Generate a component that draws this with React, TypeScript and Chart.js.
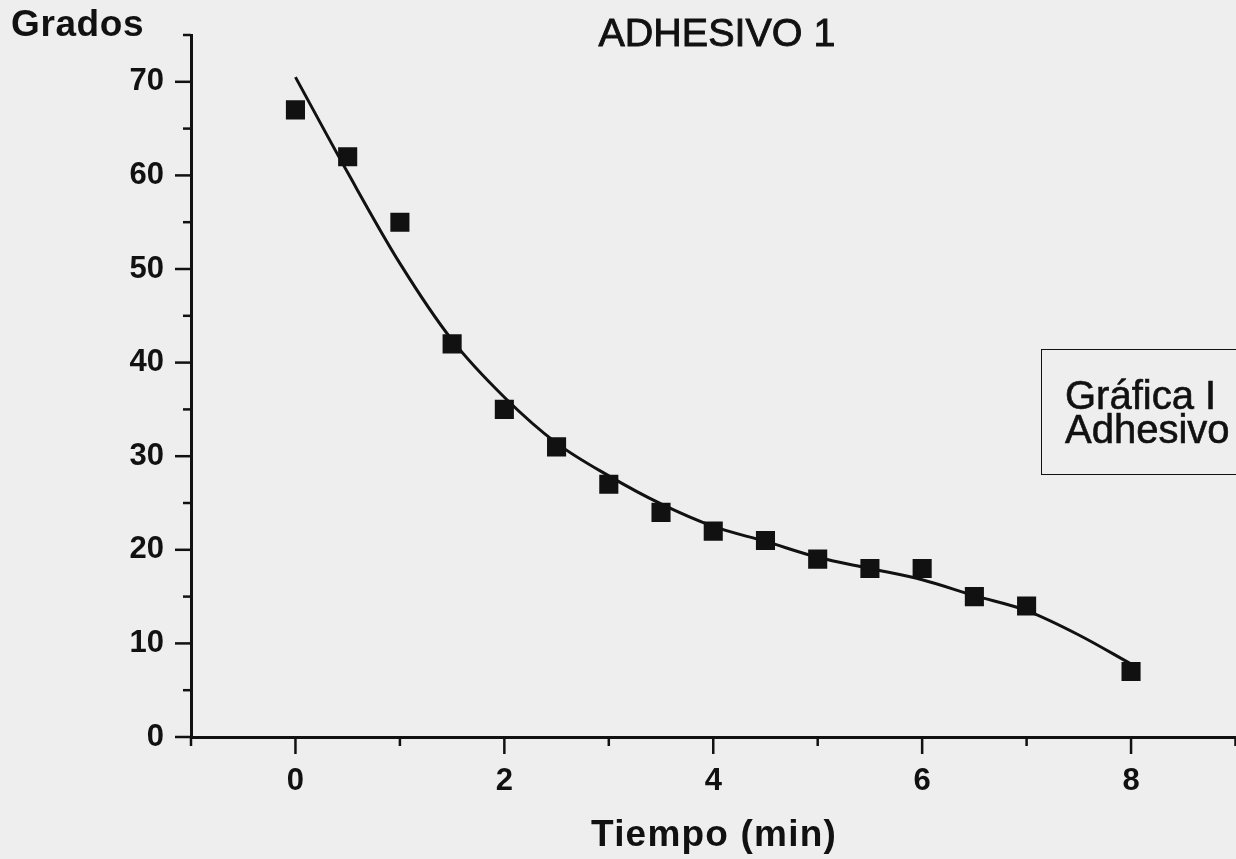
import React, { useEffect, useRef } from 'react';
import { Chart, registerables } from 'chart.js';

Chart.register(...registerables);

// Measured points (Tiempo in min, Grados)
const tiempo = [0, 0.5, 1, 1.5, 2, 2.5, 3, 3.5, 4, 4.5, 5, 5.5, 6, 6.5, 7, 8];
const grados = [67, 62, 55, 42, 35, 31, 27, 24, 22, 21, 19, 18, 18, 15, 14, 7];

// Fitted curve
const ajusteX = [0, 0.5, 1, 1.5, 2, 2.5, 3, 3.5, 4, 4.5, 5, 5.5, 6, 6.5, 7, 7.5, 8];
const ajusteY = [70.5, 60.3, 50.6, 42.4, 36.3, 31.4, 27.9, 24.9, 22.5, 20.9, 19.2, 18.0, 16.8, 15.1, 13.5, 10.9, 7.8];

// Axis labels
const xTickLabels = ['0', '2', '4', '6', '8'];
const yTickLabels = ['0', '10', '20', '30', '40', '50', '60', '70'];

const titulo = 'ADHESIVO 1';
const ejeY = 'Grados';
const ejeX = 'Tiempo (min)';
const cajaLineas = ['Gráfica I', 'Adhesivo'];

const INK = '#111111';
const FONT = '"Liberation Sans", Arial, sans-serif';

const tickMarks = {
  id: 'tickMarks',
  afterDraw(chart: any) {
    const ctx = chart.ctx;
    const xs = chart.scales.x;
    const ys = chart.scales.y;
    ctx.save();
    ctx.strokeStyle = INK;
    ctx.lineWidth = 2.5;
    ctx.lineCap = 'butt';
    xs.ticks.forEach((t: any) => {
      const major = xTickLabels.includes(String(t.value));
      const px = xs.getPixelForValue(t.value);
      const len = major ? 17 : 9;
      ctx.beginPath();
      ctx.moveTo(px, xs.top);
      ctx.lineTo(px, xs.top + len);
      ctx.stroke();
    });
    ys.ticks.forEach((t: any) => {
      const major = yTickLabels.includes(String(t.value));
      const py = ys.getPixelForValue(t.value);
      const len = major ? 16 : 8;
      ctx.beginPath();
      ctx.moveTo(ys.right, py);
      ctx.lineTo(ys.right - len, py);
      ctx.stroke();
    });
    ctx.restore();
  },
};

export default function App() {
  const ref = useRef<HTMLCanvasElement | null>(null);

  useEffect(() => {
    if (!ref.current) return;
    const puntos = tiempo.map((x, i) => ({ x, y: grados[i] }));
    const curva = ajusteX.map((x, i) => ({ x, y: ajusteY[i] }));
    const chart = new Chart(ref.current, {
      type: 'scatter',
      data: {
        datasets: [
          {
            label: 'ajuste',
            data: curva,
            showLine: true,
            borderColor: INK,
            borderWidth: 3,
            pointRadius: 0,
            cubicInterpolationMode: 'monotone',
          } as any,
          {
            label: 'datos',
            data: puntos,
            showLine: false,
            pointStyle: 'rect',
            pointRadius: 13.5,
            backgroundColor: INK,
            borderColor: INK,
            borderWidth: 0,
          } as any,
        ],
      },
      options: {
        responsive: false,
        animation: false,
        events: [],
        layout: { padding: { top: 35, right: 0, left: 0, bottom: 0 } },
        plugins: {
          legend: { display: false },
          title: { display: false },
          tooltip: { enabled: false },
        },
        scales: {
          x: {
            type: 'linear',
            min: -1,
            max: 9,
            grid: { display: false, drawTicks: false, tickLength: 0 },
            border: { display: true, width: 3, color: INK },
            afterFit: (s: any) => {
              s.height = 122;
              s.paddingLeft = 0;
              s.paddingRight = 0;
            },
            ticks: {
              stepSize: 1,
              autoSkip: false,
              maxRotation: 0,
              padding: 26,
              color: INK,
              font: { family: FONT, size: 31, weight: 'bold' },
              callback: (v: any) => (xTickLabels.includes(String(v)) ? String(v) : ''),
            },
          },
          y: {
            type: 'linear',
            min: 0,
            max: 75,
            grid: { display: false, drawTicks: false, tickLength: 0 },
            border: { display: true, width: 3, color: INK },
            afterFit: (s: any) => {
              s.width = 191;
              s.paddingTop = 0;
              s.paddingBottom = 0;
            },
            ticks: {
              stepSize: 5,
              autoSkip: false,
              padding: 27,
              color: INK,
              font: { family: FONT, size: 31, weight: 'bold' },
              callback: (v: any) => (yTickLabels.includes(String(v)) ? String(v) : ''),
            },
          },
        },
      },
      plugins: [tickMarks],
    });
    return () => chart.destroy();
  }, []);

  const text: React.CSSProperties = {
    position: 'absolute',
    whiteSpace: 'nowrap',
    color: INK,
    fontFamily: FONT,
  };

  return (
    <div
      style={{
        position: 'fixed',
        left: 0,
        top: 0,
        width: 1236,
        height: 859,
        background: '#eeeeee',
        overflow: 'hidden',
      }}
    >
      <canvas ref={ref} width={1249} height={859} style={{ position: 'absolute', left: 0, top: 0 }} />
      <div
        style={{
          ...text,
          left: 717,
          top: 13.3,
          transform: 'translateX(-50%)',
          fontSize: 39.5,
          lineHeight: '39.5px',
          WebkitTextStroke: `0.9px ${INK}`,
        }}
      >
        {titulo}
      </div>
      <div
        style={{
          ...text,
          left: 11,
          top: 5,
          fontSize: 37,
          lineHeight: '37px',
          fontWeight: 'bold',
          letterSpacing: 0.6,
        }}
      >
        {ejeY}
      </div>
      <div
        style={{
          ...text,
          left: 714,
          top: 815,
          transform: 'translateX(-50%)',
          fontSize: 37,
          lineHeight: '37px',
          fontWeight: 'bold',
          letterSpacing: 1.2,
        }}
      >
        {ejeX}
      </div>
      <div
        style={{
          position: 'absolute',
          left: 1041,
          top: 349,
          width: 260,
          height: 124,
          border: `1.5px solid ${INK}`,
        }}
      />
      <div
        style={{
          ...text,
          left: 1065,
          top: 377.5,
          fontSize: 40,
          lineHeight: '34px',
          WebkitTextStroke: `0.6px ${INK}`,
        }}
      >
        {cajaLineas.map((l) => (
          <div key={l}>{l}</div>
        ))}
      </div>
    </div>
  );
}
